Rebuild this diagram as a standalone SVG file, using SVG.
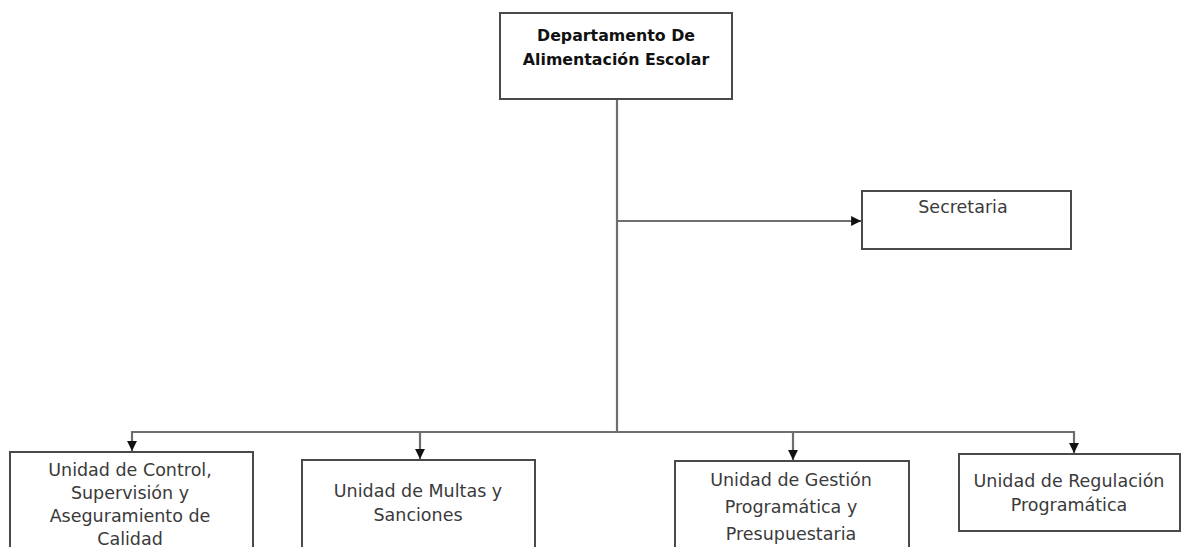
<svg xmlns="http://www.w3.org/2000/svg" width="1181" height="547" viewBox="0 0 1181 547">
<defs>
<style>
.box{fill:#fff;stroke:#4a4a4a;stroke-width:2}
.ln{fill:none;stroke:#6e6e6e;stroke-width:2.2}
.t{font-family:"DejaVu Sans",sans-serif;font-size:17.5px;fill:#3a3a3a;text-anchor:middle}
.tb{font-family:"DejaVu Sans",sans-serif;font-size:15.8px;font-weight:bold;fill:#111;text-anchor:middle}
</style>
<marker id="ah" viewBox="0 0 10 10" refX="10" refY="5" markerWidth="4.5" markerHeight="4.5" orient="auto" markerUnits="strokeWidth">
<path d="M0,0 L10,5 L0,10 z" fill="#111"/>
</marker>
</defs>
<rect width="1181" height="547" fill="#fff"/>
<g id="connectors">
<path class="ln" d="M617,99 V432"/>
<path class="ln" d="M617,221 H861" marker-end="url(#ah)"/>
<path class="ln" d="M132,432 H1074"/>
<path class="ln" d="M132,431 V451" marker-end="url(#ah)"/>
<path class="ln" d="M420,431 V459" marker-end="url(#ah)"/>
<path class="ln" d="M793,431 V460" marker-end="url(#ah)"/>
<path class="ln" d="M1074,431 V453" marker-end="url(#ah)"/>
</g>
<g id="n-departamento">
<rect class="box" x="500" y="13" width="232" height="86"/>
<text class="tb" x="616" y="41">Departamento De</text>
<text class="tb" x="616" y="65">Alimentación Escolar</text>
</g>
<g id="n-secretaria">
<rect class="box" x="862" y="191" width="209" height="58"/>
<text class="t" x="963" y="213">Secretaria</text>
</g>
<g id="n-control">
<rect class="box" x="10" y="452" width="243" height="110"/>
<text class="t" x="130" y="476">Unidad de Control,</text>
<text class="t" x="130" y="499">Supervisión y</text>
<text class="t" x="130" y="522">Aseguramiento de</text>
<text class="t" x="130" y="545">Calidad</text>
</g>
<g id="n-multas">
<rect class="box" x="302" y="460" width="233" height="100"/>
<text class="t" x="418" y="497">Unidad de Multas y</text>
<text class="t" x="418" y="521">Sanciones</text>
</g>
<g id="n-gestion">
<rect class="box" x="675" y="461" width="234" height="100"/>
<text class="t" x="791" y="486">Unidad de Gestión</text>
<text class="t" x="791" y="513">Programática y</text>
<text class="t" x="791" y="540">Presupuestaria</text>
</g>
<g id="n-regulacion">
<rect class="box" x="959" y="454" width="221" height="77"/>
<text class="t" x="1069" y="487">Unidad de Regulación</text>
<text class="t" x="1069" y="511">Programática</text>
</g>
</svg>
